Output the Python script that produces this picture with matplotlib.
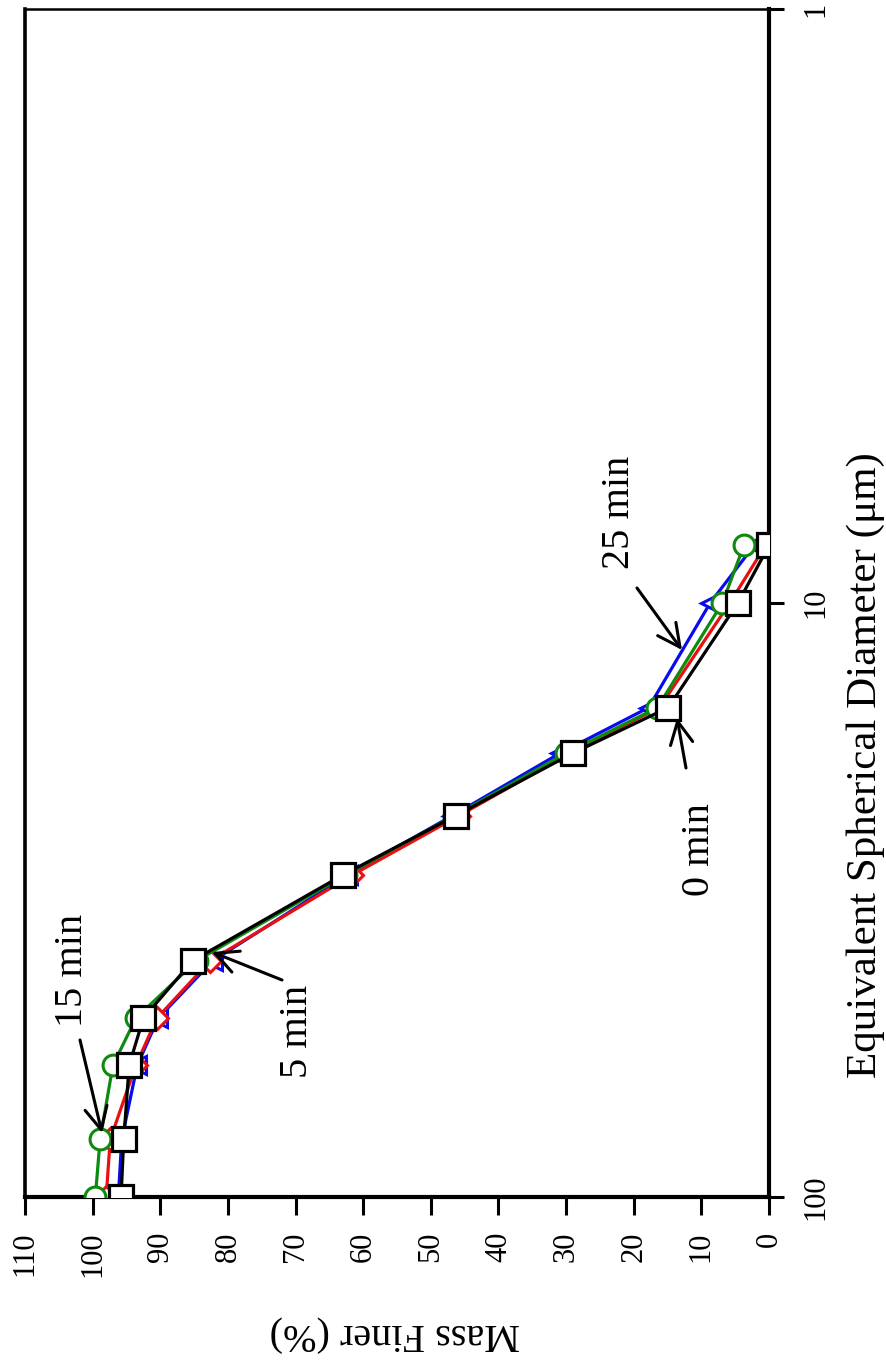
import matplotlib
matplotlib.use("Agg")
import matplotlib.pyplot as plt

# ---- data ----
diameter_um = [100, 80, 60, 50, 40, 28.7, 22.8, 17.9, 15, 10, 8]
mass_0min  = [95.8, 95.4, 94.6, 92.5, 85.2, 63.0, 46.3, 29.0, 14.9, 4.6, 0.0]
mass_5min  = [98.0, 97.4, 93.6, 90.5, 82.6, 61.6, 45.8, 29.5, 16.2, 5.8, 0.5]
mass_15min = [99.6, 98.9, 97.0, 93.6, 84.6, 62.6, 46.5, 30.0, 16.5, 6.9, 3.7]
mass_25min = [96.2, 95.7, 93.4, 90.3, 82.2, 62.3, 46.8, 30.9, 17.8, 8.7, 2.2]

mass_ticks = list(range(0, 111, 10))
diam_ticks = [1, 10, 100]
diam_tick_labels = ["1", "10", "100"]

plt.rcParams['font.family'] = ['Liberation Serif', 'DejaVu Serif']

W, H = 887, 1360
fig = plt.figure(figsize=(W / 100, H / 100), dpi=100)
ax = fig.add_axes([25 / W, 1 - 1197 / H, (769 - 25) / W, (1197 - 9) / H])

lw = 2.3
ax.plot(mass_25min, diameter_um, color='#0a0af0', lw=lw, marker='<', ms=13,
        mfc='white', mec='#0a0af0', mew=2.2, zorder=3)
ax.plot(mass_5min, diameter_um, color='#e81010', lw=lw, marker='D', ms=11,
        mfc='white', mec='#e81010', mew=2.2, zorder=4)
ax.plot(mass_15min, diameter_um, color='#0e8a0e', lw=lw, marker='o', ms=15,
        mfc='white', mec='#0e8a0e', mew=2.2, zorder=5)
ax.plot(mass_0min, diameter_um, color='black', lw=lw, marker='s', ms=17,
        mfc='white', mec='black', mew=2.3, zorder=6)

ax.set_yscale('log')
ax.set_xlim(110, 0)
ax.set_ylim(100, 1)

ax.set_xticks(mass_ticks)
ax.set_xticklabels([str(t) for t in mass_ticks], rotation=90, fontsize=22)
ax.yaxis.tick_right()
ax.set_yticks(diam_ticks)
ax.set_yticklabels(diam_tick_labels, rotation=90, fontsize=22, va='center')
ax.yaxis.set_minor_locator(matplotlib.ticker.NullLocator())

ax.tick_params(axis='x', direction='out', length=13, width=2.2, pad=12)
ax.tick_params(axis='y', direction='out', length=11, width=2.2, pad=12)

for side, w in [('left', 2.6), ('bottom', 3.0), ('right', 3.0), ('top', 1.8)]:
    ax.spines[side].set_linewidth(w)

# axis titles
fig.text(395 / W, 1 - 1333 / H, "Mass Finer (%)", rotation=180, fontsize=29,
         ha='center', va='center')
fig.text(866 / W, 1 - 765 / H, "Equivalent Spherical Diameter (μm)", rotation=90,
         fontsize=31, ha='center', va='center')

# annotations (positions in data coords)
def px2data(x, y):
    disp = fig.transFigure.transform((x / W, 1 - y / H))
    return ax.transData.inverted().transform(disp)

arrow_kw = dict(arrowstyle='->,head_length=0.9,head_width=0.45', color='black',
                lw=2.2, mutation_scale=18, shrinkA=0, shrinkB=0)

annotations = [
    ("15 min", (73, 970), (80, 1040), (102, 1133)),
    ("5 min", (298, 1031), (282, 980), (212, 952)),
    ("25 min", (620, 512), (637, 588), (682, 650)),
    ("0 min", (700, 850), (686, 768), (677, 718)),
]
for label, tpos, tail, head in annotations:
    tx, ty = px2data(*tpos)
    ax.text(tx, ty, label, rotation=90, fontsize=29, ha='center', va='center',
            zorder=10)
    ax.annotate("", xy=px2data(*head), xytext=px2data(*tail),
                arrowprops=arrow_kw, zorder=10)

fig.savefig("out.png", dpi=100)
